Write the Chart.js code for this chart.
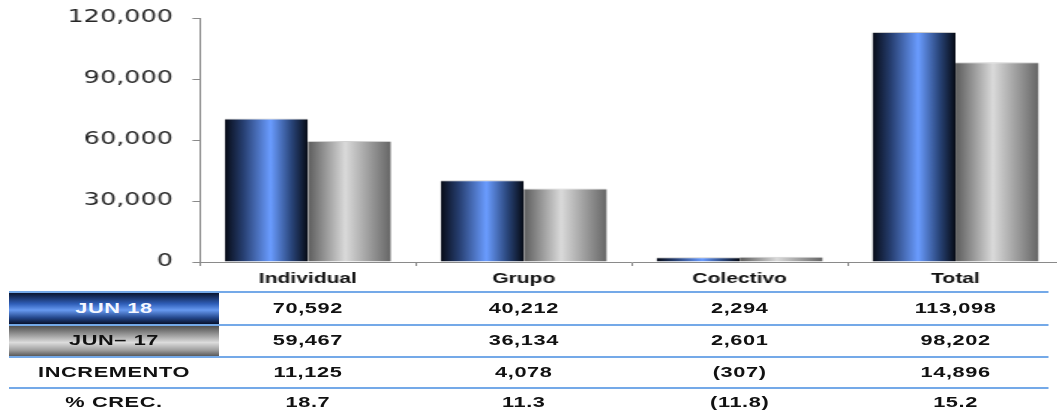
<!DOCTYPE html>
<html>
<head>
<meta charset="utf-8">
<script src="https://cdn.jsdelivr.net/npm/chart.js@4/dist/chart.umd.min.js"></script>
<style>
    html, body { margin: 0; padding: 0; background: #fff; overflow: hidden; }
    /* the original picture is stretched sideways, so the page is drawn narrow and widened */
    #wrap {
        position: absolute; left: 0; top: 0;
        width: 709px; height: 415px;
        transform-origin: 0 0; transform: scaleX(1.5);
    }
    #chart-box { position: absolute; left: 0; top: 0; width: 709px; height: 290px; }
    .rule { position: absolute; left: 6.3px; width: 692.4px; height: 2px; background: #74a9e8; }
    .label-cell { position: absolute; left: 6.3px; width: 139.7px; height: 31px; }
    .cell {
        position: absolute; white-space: nowrap;
        transform: translate(-50%, -50%);
        font: bold 14.5px "Liberation Sans", Arial, sans-serif;
        letter-spacing: 0.4px; color: #111;
    }
</style>
</head>
<body>
<div id="wrap">
    <div id="chart-box"><canvas id="bars"></canvas></div>
    <div id="table"></div>
</div>
<script>
    // Data
    const categories = ['Individual', 'Grupo', 'Colectivo', 'Total'];
    const jun18 = [70592, 40212, 2294, 113098];
    const jun17 = [59467, 36134, 2601, 98202];
    const incremento = [11125, 4078, -307, 14896];
    const crecimiento = [18.7, 11.3, -11.8, 15.2];
    const yTicks = [0, 30000, 60000, 90000, 120000];
    const rowLabels = ['JUN 18', 'JUN\u2013 17', 'INCREMENTO', '% CREC.'];

    const CAT_PCT = 0.77;

    const blueStops = [[0, '#070b16'], [0.22, '#263e70'], [0.55, '#6a9cff'], [0.8, '#2a467c'], [1, '#060a14']];
    const grayStops = [[0, '#5c5c5c'], [0.45, '#dadada'], [1, '#656565']];

    /**
     * Horizontal gradient across one bar, worked out from the x scale
     */
    function barFill(ctx, stops) {
        const chart = ctx.chart;
        const xs = chart.scales.x;
        const fallback = stops[2][1];
        if (!xs || ctx.dataIndex === undefined) return fallback;
        const barW = xs.width / categories.length * CAT_PCT / 2;
        const left = xs.getPixelForValue(ctx.dataIndex) - barW + ctx.datasetIndex * barW;
        if (!isFinite(left) || !isFinite(barW) || barW <= 0) return fallback;
        const g = chart.ctx.createLinearGradient(left, 0, left + barW, 0);
        stops.forEach(([o, c]) => g.addColorStop(o, c));
        return g;
    }

    function fmtInt(v) {
        const s = Math.abs(v).toLocaleString('en-US');
        return v < 0 ? `(${s})` : s;
    }

    function fmtPct(v) {
        const s = Math.abs(v).toFixed(1);
        return v < 0 ? `(${s})` : s;
    }

    /**
     * Build the data table under the chart, columns centred on the categories
     */
    function buildTable(chart) {
        const table = document.getElementById('table');
        const xs = chart.scales.x;
        const rowCenters = [308, 340, 372, 402];
        const rules = [291, 323.5, 355.5, 387];
        const labelX = 76;

        table.innerHTML = '';

        rules.forEach(y => {
            const d = document.createElement('div');
            d.className = 'rule';
            d.style.top = y + 'px';
            table.appendChild(d);
        });

        const fills = [
            'linear-gradient(to bottom, #0a1530 0%, #2f5eb8 35%, #6799f0 55%, #23468a 80%, #08112a 100%)',
            'linear-gradient(to bottom, #505050 0%, #a8a8a8 35%, #dcdcdc 55%, #a0a0a0 80%, #5a5a5a 100%)'
        ];
        fills.forEach((bg, i) => {
            const d = document.createElement('div');
            d.className = 'label-cell';
            d.style.top = (rules[i] + 2) + 'px';
            d.style.height = (rules[i + 1] - rules[i] - 2) + 'px';
            d.style.background = bg;
            table.appendChild(d);
        });

        const rows = [
            jun18.map(fmtInt),
            jun17.map(fmtInt),
            incremento.map(fmtInt),
            crecimiento.map(fmtPct)
        ];

        rows.forEach((vals, r) => {
            const lab = document.createElement('div');
            lab.className = 'cell';
            lab.textContent = rowLabels[r];
            lab.style.left = labelX + 'px';
            lab.style.top = rowCenters[r] + 'px';
            if (r === 0) lab.style.color = '#f4f7ff';
            table.appendChild(lab);

            vals.forEach((txt, c) => {
                const d = document.createElement('div');
                d.className = 'cell';
                d.textContent = txt;
                d.style.left = xs.getPixelForValue(c) + 'px';
                d.style.top = rowCenters[r] + 'px';
                table.appendChild(d);
            });
        });
    }

    const tablePlugin = {
        id: 'dataTable',
        afterDraw: chart => buildTable(chart)
    };

    new Chart(document.getElementById('bars'), {
        type: 'bar',
        data: {
            labels: categories,
            datasets: [
                {
                    label: 'JUN 18',
                    data: jun18,
                    backgroundColor: ctx => barFill(ctx, blueStops),
                    borderColor: '#c9c9c9',
                    borderWidth: { top: 1 },
                    borderSkipped: 'start'
                },
                {
                    label: 'JUN\u2013 17',
                    data: jun17,
                    backgroundColor: ctx => barFill(ctx, grayStops),
                    borderColor: '#d0d0d0',
                    borderWidth: { top: 1 },
                    borderSkipped: 'start'
                }
            ]
        },
        plugins: [tablePlugin],
        options: {
            responsive: true,
            maintainAspectRatio: false,
            animation: false,
            layout: { padding: { top: 18, right: 0, bottom: 0, left: 0 } },
            datasets: { bar: { categoryPercentage: CAT_PCT, barPercentage: 1.0 } },
            plugins: { legend: { display: false }, tooltip: { enabled: false } },
            scales: {
                x: {
                    grid: { drawOnChartArea: false, tickLength: 4, color: '#8a8a8a' },
                    border: { color: '#8a8a8a' },
                    ticks: {
                        padding: 5,
                        color: '#111',
                        font: { family: '"Liberation Sans", Arial, sans-serif', size: 14, weight: 'bold' }
                    },
                    afterFit: scale => { scale.height = 28; }
                },
                y: {
                    min: yTicks[0],
                    max: yTicks[yTicks.length - 1],
                    afterBuildTicks: scale => { scale.ticks = yTicks.map(v => ({ value: v })); },
                    grid: { drawOnChartArea: false, tickLength: 5, color: '#8a8a8a' },
                    border: { color: '#8a8a8a' },
                    ticks: {
                        padding: 13,
                        color: '#262626',
                        font: { family: '"DejaVu Sans", Verdana, sans-serif', size: 17 },
                        callback: v => v.toLocaleString('en-US')
                    },
                    afterFit: scale => {
                        scale.width = 133.3;
                        scale.paddingTop = 0;
                        scale.paddingBottom = 0;
                    }
                }
            }
        }
    });
</script>
</body>
</html>
